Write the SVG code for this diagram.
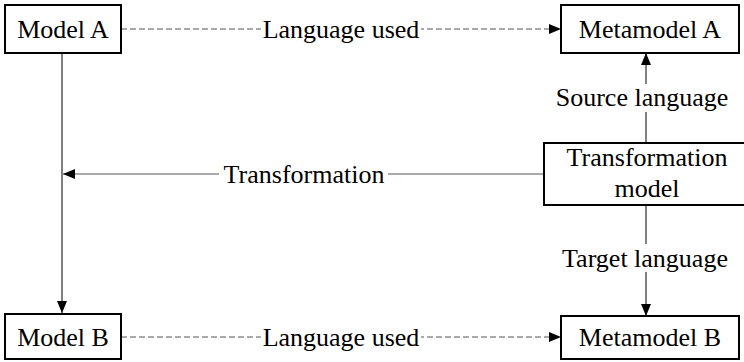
<svg xmlns="http://www.w3.org/2000/svg" width="744" height="362" viewBox="0 0 744 362">
  <style>
    .box { fill: #ffffff; stroke: #000000; stroke-width: 2; }
    .lbl { font-family: 'Liberation Serif', 'DejaVu Serif', 'Noto Serif', serif; font-size: 26px; fill: #000000; text-anchor: middle; }
    .solid { stroke: #000000; stroke-width: 1; fill: none; }
    .gray { stroke: #555555; stroke-width: 1; fill: none; }
    .dash { stroke: #555555; stroke-width: 1; fill: none; stroke-dasharray: 6 3; }
    .bg { fill: #ffffff; }
  </style>
  <defs>
    <marker id="arrow" viewBox="0 0 12 10" refX="12" refY="5" markerWidth="12" markerHeight="10" markerUnits="userSpaceOnUse" orient="auto">
      <path d="M0,0 L12,5 L0,10 z" fill="#000000"/>
    </marker>
  </defs>
  <rect width="744" height="362" fill="#ffffff"/>

  <!-- connectors -->
  <g id="connectors">
    <!-- Model A to Model B -->
    <line class="solid" x1="62" y1="53" x2="62" y2="313" marker-end="url(#arrow)"/>
    <!-- Transformation -->
    <line class="gray" x1="544" y1="174" x2="63" y2="174" marker-end="url(#arrow)"/>
    <rect class="bg" x="219" y="160" width="169" height="28"/>
    <text class="lbl" x="304" y="183" font-family="Liberation Serif, serif">Transformation</text>
    <!-- Language used (top) -->
    <line class="dash" x1="121" y1="29" x2="561" y2="29" marker-end="url(#arrow)"/>
    <rect class="bg" x="261" y="15" width="160" height="28"/>
    <text class="lbl" x="341" y="38">Language used</text>
    <!-- Language used (bottom) -->
    <line class="dash" x1="121" y1="337" x2="561" y2="337" marker-end="url(#arrow)"/>
    <rect class="bg" x="261" y="323" width="160" height="28"/>
    <text class="lbl" x="341" y="346">Language used</text>
    <!-- Source language -->
    <line class="solid" x1="646" y1="143" x2="646" y2="53" marker-end="url(#arrow)"/>
    <rect class="bg" x="556" y="84" width="172" height="28"/>
    <text class="lbl" x="642" y="106">Source language</text>
    <!-- Target language -->
    <line class="solid" x1="646" y1="205" x2="646" y2="316" marker-end="url(#arrow)"/>
    <rect class="bg" x="556" y="244" width="176" height="28"/>
    <text class="lbl" x="645" y="267">Target language</text>
  </g>

  <g id="model-a">
    <rect class="box" x="5" y="5" width="116" height="48"/>
    <text class="lbl" x="63" y="38">Model A</text>
  </g>
  <g id="metamodel-a">
    <rect class="box" x="561" y="5" width="178" height="48"/>
    <text class="lbl" x="650" y="38">Metamodel A</text>
  </g>
  <g id="transformation-model">
    <rect class="box" x="544" y="143" width="206" height="62"/>
    <text class="lbl" x="647" y="166">Transformation</text>
    <text class="lbl" x="647" y="197">model</text>
  </g>
  <g id="model-b">
    <rect class="box" x="5" y="314" width="116" height="45"/>
    <text class="lbl" x="63" y="346">Model B</text>
  </g>
  <g id="metamodel-b">
    <rect class="box" x="561" y="316" width="178" height="43"/>
    <text class="lbl" x="650" y="346">Metamodel B</text>
  </g>
</svg>
